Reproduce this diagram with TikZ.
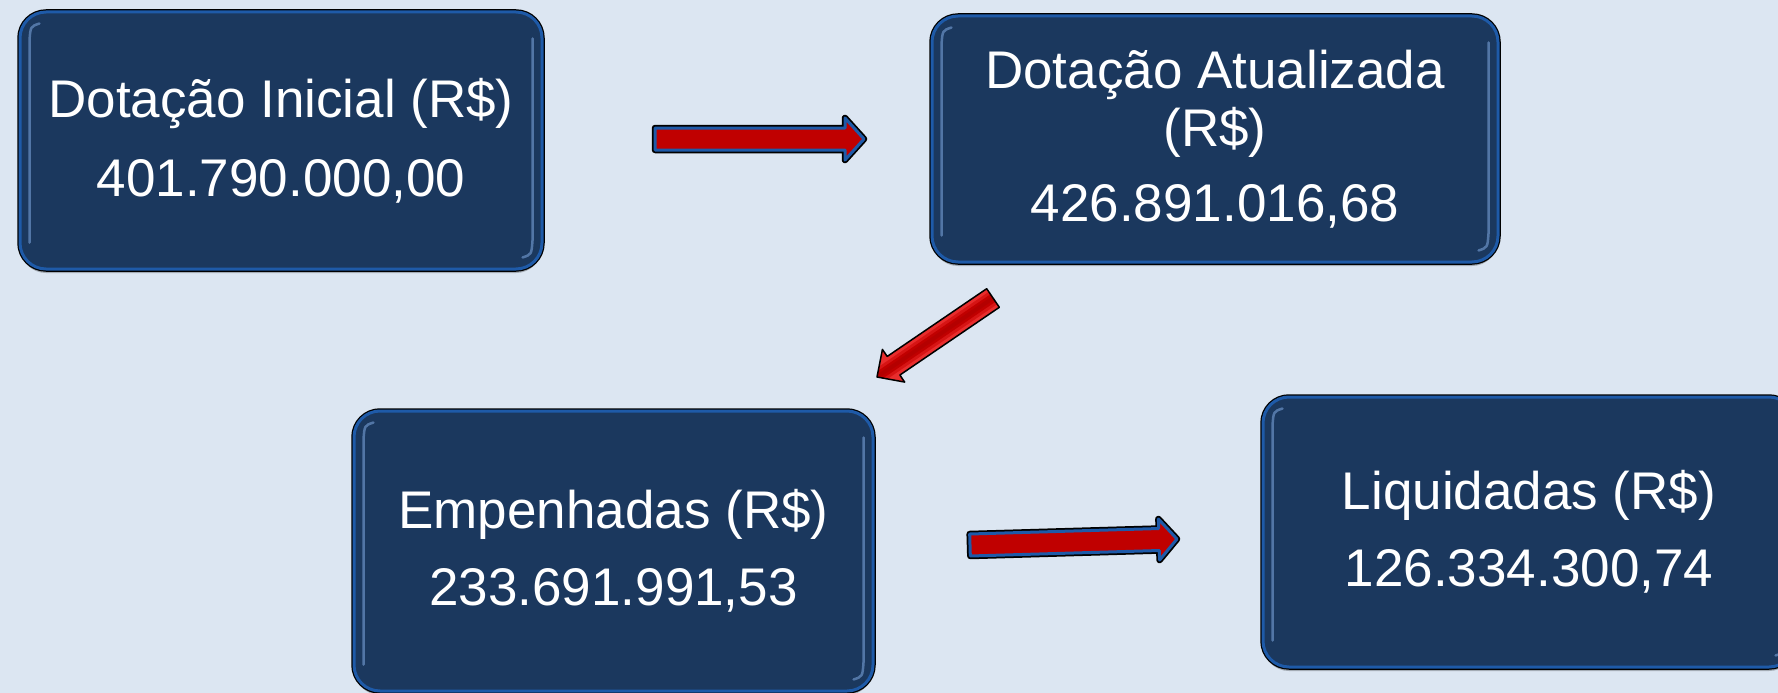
\documentclass[tikz,border=0pt]{standalone}
\usepackage{fontspec}
\setmainfont{Liberation Sans}
\usetikzlibrary{calc,shadows}
\definecolor{bg}{RGB}{220,230,242}
\definecolor{navy}{RGB}{27,56,94}
\definecolor{rimblue}{RGB}{30,90,168}
\definecolor{gloss}{RGB}{120,160,215}
\definecolor{arrred}{RGB}{192,0,0}
\definecolor{redlite}{RGB}{232,45,45}
\definecolor{redmid}{RGB}{214,20,20}
\definecolor{reddark}{RGB}{180,0,0}
\newcommand\arrowshape[5]{($(#1)!#4!90:(#3)$) -- ($(#2)!#4!90:(#3)$) -- ($(#2)!#5!90:(#3)$) -- (#3) -- ($(#2)!#5!-90:(#3)$) -- ($(#2)!#4!-90:(#3)$) -- ($(#1)!#4!-90:(#3)$) -- cycle}
\tikzset{
  valbox/.style={shape=rectangle, rounded corners=26pt, fill=navy, draw=rimblue,
    line width=3pt, inner sep=0pt, align=center, text=white,
    font=\fontsize{53}{58}\selectfont,
    drop shadow={shadow xshift=0pt, shadow yshift=-4pt, opacity=0.25, fill=black},
    preaction={draw=black, line width=5.5pt}},
  glossline/.style={draw=gloss, line width=2.5pt, line cap=round, opacity=0.6},
  harrow/.style={fill=arrred, draw=rimblue, line width=3pt, line join=round,
    preaction={draw=black, line width=6.5pt, line join=round}},
  darrow/.style={fill=redlite, draw=black, line width=1.5pt, line join=round}
}
\begin{document}
\begin{tikzpicture}[x=1pt, y=-1pt]
\useasboundingbox (0,0) rectangle (1778,693);
\fill[bg] (0,0) rectangle (1778,693);
\clip (0,0) rectangle (1778,693);

\node[valbox, minimum width=522pt, minimum height=257pt] (ini) at (281,140.5)
  {Dotação Inicial (R\$)\\[21pt]401.790.000,00};
\node[valbox, minimum width=566pt, minimum height=246pt] (atu) at (1215,139)
  {Dotação Atualizada\\(R\$)\\[17pt]426.891.016,68};
\node[valbox, minimum width=519pt, minimum height=280pt] (emp) at (613.5,551)
  {Empenhadas (R\$)\\[19pt]233.691.991,53};
\node[valbox, minimum width=532pt, minimum height=270pt] (liq) at (1529,532)
  {Liquidadas (R\$)\\[19pt]126.334.300,74};

\foreach \b in {ini,atu,emp,liq}{
  \draw[glossline] ([xshift=21pt,yshift=-13pt]\b.north west)
     .. controls ([xshift=12pt,yshift=-16pt]\b.north west) .. ([xshift=11pt,yshift=-30pt]\b.north west)
     -- ([xshift=11pt,yshift=28pt]\b.south west);
  \draw[glossline] ([xshift=-11pt,yshift=-28pt]\b.north east)
     -- ([xshift=-11pt,yshift=30pt]\b.south east)
     .. controls ([xshift=-12pt,yshift=16pt]\b.south east) .. ([xshift=-21pt,yshift=13pt]\b.south east);
}

% arrow 1: Dotacao Inicial -> Dotacao Atualizada
\coordinate (a1t) at (655,139);
\coordinate (a1p) at (864,139);
\coordinate (a1h) at ($(a1p)!19pt!(a1t)$);
\draw[harrow] \arrowshape{a1t}{a1h}{a1p}{11pt}{21pt};

% arrow 2: Dotacao Atualizada -> Empenhadas
\coordinate (a2t) at (993,298);
\coordinate (a2p) at (877,377);
\coordinate (a2h) at ($(a2p)!20pt!(a2t)$);
\draw[darrow, path picture={
    \draw[redmid, line width=15pt] (a2t) -- (a2p);
    \draw[arrred, line width=9pt] (a2t) -- (a2p);
    \draw[reddark, line width=4pt] (a2t) -- (a2p);}]
  \arrowshape{a2t}{a2h}{a2p}{11.25pt}{19.75pt};

% arrow 3: Empenhadas -> Liquidadas
\coordinate (a3t) at (970,545);
\coordinate (a3p) at (1177,539);
\coordinate (a3h) at ($(a3p)!18pt!(a3t)$);
\draw[harrow] \arrowshape{a3t}{a3h}{a3p}{11pt}{20.5pt};
\end{tikzpicture}
\end{document}
